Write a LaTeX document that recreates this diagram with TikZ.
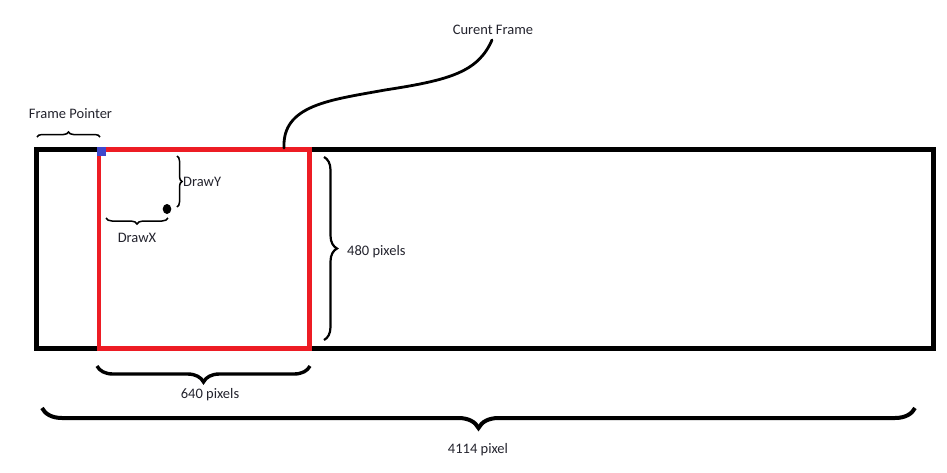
\documentclass[tikz,border=0pt]{standalone}
\usepackage{fontspec}
\setmainfont{Carlito}
\usetikzlibrary{decorations.pathreplacing}
\definecolor{paintred}{RGB}{237,28,36}
\definecolor{paintblue}{RGB}{63,72,204}
\definecolor{txt}{RGB}{35,35,45}
\tikzset{
  lbl/.style={text=txt,font=\fontsize{14.5}{17}\selectfont,inner sep=0pt},
  bracebig/.style={decorate,decoration={brace,amplitude=#1},line width=4pt,black},
  bracemid/.style={decorate,decoration={brace,amplitude=#1},line width=3.4pt,black},
  bracethin/.style={decorate,decoration={brace,amplitude=#1},line width=2.2pt,black},
  bracesmall/.style={decorate,decoration={brace,amplitude=#1},line width=1.5pt,black},
}
\begin{document}
\begin{tikzpicture}[x=1pt,y=-1pt]
\useasboundingbox (0,0) rectangle (947,472);
% full strip
\draw[line width=5pt,black] (36.5,149.5) rectangle (933,348.5);
% current frame
\draw[line width=4.5pt,paintred] (99,149.5) rectangle (309.5,348.5);
% frame pointer square
\fill[paintblue] (96.5,146.5) rectangle (106,156);
% dot
\fill[black] (167,209) ellipse [x radius=4.3pt, y radius=5pt];
% labels
\node[lbl] (fp) at (70.5,114) {Frame Pointer};
\node[lbl] (cf) at (493,30) {Curent Frame};
\node[lbl,anchor=west] (dy) at (183,182) {DrawY};
\node[lbl] (dx) at (137,238) {DrawX};
\node[lbl,anchor=west] (h) at (347,252) {480 pixels};
\node[lbl] (w) at (210,395) {640 pixels};
\node[lbl] (t) at (478,450) {4114 pixel};
% braces
\draw[bracesmall=5pt] (37,137) -- (100,137);
\draw[bracesmall=5pt] (177,156) -- (177,207);
\draw[bracesmall=6pt] (168,218) -- (106,218);
\draw[bracethin=13pt] (324,157) -- (324,340);
\draw[bracemid=16pt] (310,366) -- (97,366);
\draw[bracebig=20pt] (915,408) -- (42,408);
% leader curve
\coordinate (cs) at (284,148);
\draw[line width=2.8pt,line cap=round] (cs) .. controls (282,105) and (330,100) .. (385,90)
  .. controls (450,80) and (478,72) .. (492,40);
\end{tikzpicture}
\end{document}
